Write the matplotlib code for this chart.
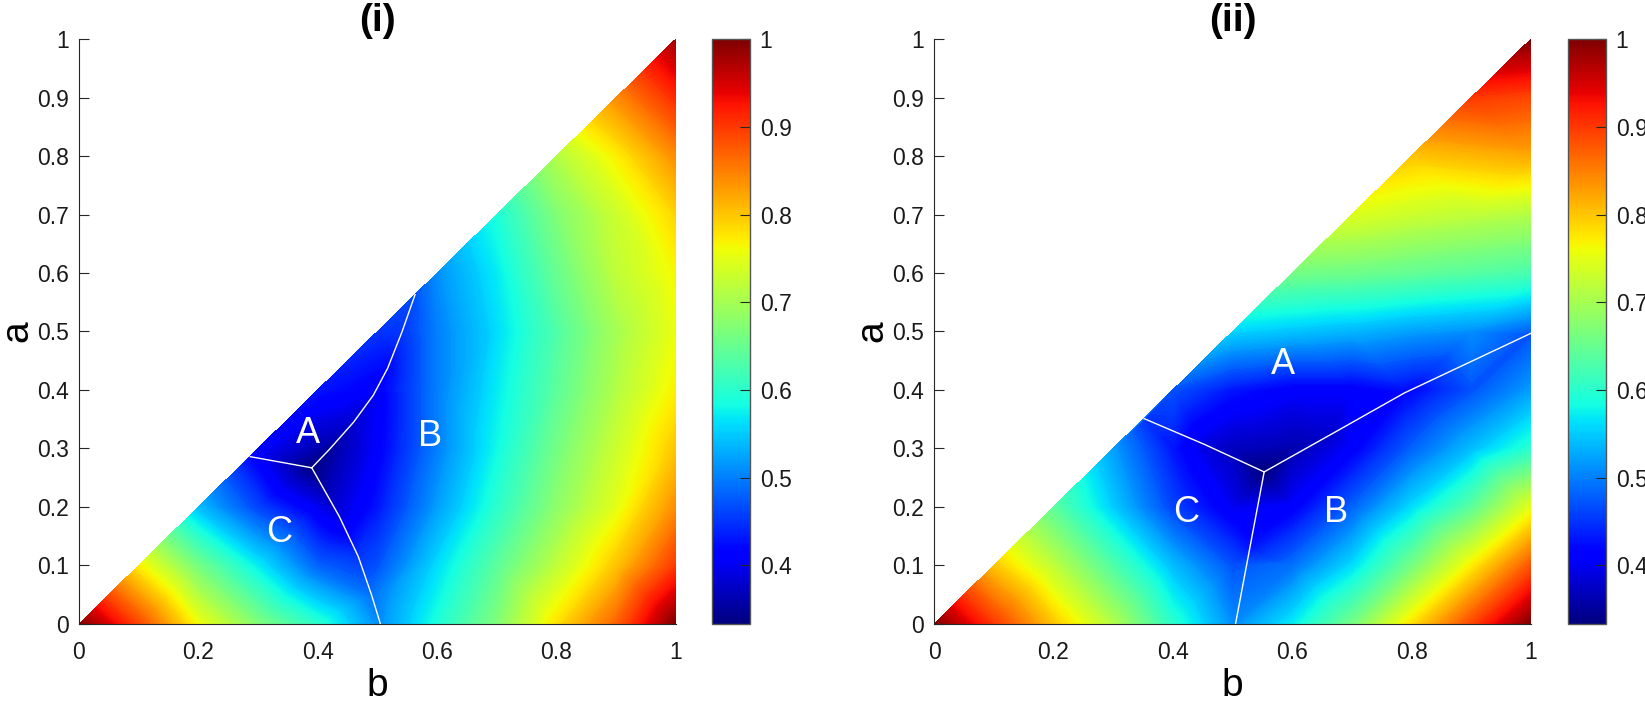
import numpy as np
import matplotlib
matplotlib.use('Agg')
import matplotlib.pyplot as plt
import matplotlib.tri as mtri
from matplotlib import cm, colors
from matplotlib.ticker import FixedLocator, FuncFormatter

plt.rcParams['font.family'] = ['Liberation Sans', 'DejaVu Sans']

# grid positions (b and a both use these)
steps = [0.0, 0.1, 0.2, 0.3, 0.4, 0.5, 0.6, 0.7, 0.8, 0.9, 1.0]

# panel (i): row j is a = steps[j], values for b = steps[j:]
p1_rows = [
    [1.00, 0.89, 0.76, 0.67, 0.60, 0.51, 0.59, 0.67, 0.78, 0.87, 1.00],
    [0.77, 0.66, 0.57, 0.48, 0.47, 0.56, 0.64, 0.72, 0.80, 0.90],
    [0.54, 0.46, 0.40, 0.43, 0.52, 0.60, 0.68, 0.75, 0.84],
    [0.41, 0.36, 0.41, 0.50, 0.58, 0.66, 0.73, 0.80],
    [0.43, 0.41, 0.50, 0.57, 0.64, 0.71, 0.77],
    [0.45, 0.50, 0.56, 0.63, 0.70, 0.755],
    [0.51, 0.57, 0.65, 0.72, 0.765],
    [0.59, 0.67, 0.73, 0.79],
    [0.71, 0.77, 0.84],
    [0.84, 0.91],
    [0.98],
]
# panel (i) region borders: b, a, value along the line
p1_ac_b = [0.287, 0.39]
p1_ac_a = [0.286, 0.267]
p1_ac_v = [0.42, 0.335]
p1_cb_b = [0.39, 0.436, 0.468, 0.49, 0.505]
p1_cb_a = [0.267, 0.184, 0.115, 0.05, 0.0]
p1_cb_v = [0.335, 0.39, 0.45, 0.49, 0.51]
p1_ab_b = [0.39, 0.42, 0.46, 0.493, 0.517, 0.541, 0.563]
p1_ab_a = [0.267, 0.299, 0.345, 0.391, 0.437, 0.499, 0.563]
p1_ab_v = [0.335, 0.35, 0.38, 0.40, 0.42, 0.45, 0.47]

# panel (ii)
p2_rows = [
    [1.00, 0.90, 0.80, 0.71, 0.60, 0.51, 0.57, 0.66, 0.78, 0.89, 1.00],
    [0.80, 0.72, 0.63, 0.54, 0.47, 0.49, 0.56, 0.66, 0.77, 0.88],
    [0.64, 0.55, 0.46, 0.40, 0.41, 0.48, 0.56, 0.64, 0.75],
    [0.52, 0.43, 0.37, 0.36, 0.41, 0.48, 0.54, 0.60],
    [0.47, 0.43, 0.41, 0.41, 0.42, 0.47, 0.52],
    [0.555, 0.545, 0.535, 0.52, 0.51, 0.48],
    [0.66, 0.655, 0.645, 0.635, 0.625],
    [0.745, 0.73, 0.72, 0.71],
    [0.80, 0.81, 0.82],
    [0.90, 0.89],
    [1.00],
]
p2_ac_b = [0.352, 0.453, 0.553]
p2_ac_a = [0.351, 0.307, 0.26]
p2_ac_v = [0.45, 0.39, 0.333]
p2_cb_b = [0.553, 0.529, 0.505]
p2_cb_a = [0.26, 0.13, 0.0]
p2_cb_v = [0.333, 0.43, 0.51]
p2_ab_b = [0.553, 0.67, 0.788, 1.0]
p2_ab_a = [0.26, 0.327, 0.395, 0.497]
p2_ab_v = [0.333, 0.38, 0.42, 0.47]

p1_labels = [('A', 0.383, 0.326), ('B', 0.588, 0.321), ('C', 0.336, 0.157)]
p2_labels = [('A', 0.584, 0.444), ('B', 0.674, 0.191), ('C', 0.423, 0.191)]

cbar_ticks = [0.4, 0.5, 0.6, 0.7, 0.8, 0.9, 1.0]
x_ticks = [0, 0.2, 0.4, 0.6, 0.8, 1]

vmin, vmax = 1 / 3, 1.0
dark = '#262626'


def short_fmt():
    return FuncFormatter(lambda v, pos: '%g' % round(v, 2))


def collect(rows, lines):
    pts = {}
    for j, row in enumerate(rows):
        for k, v in enumerate(row):
            pts[(round(steps[j + k], 4), round(steps[j], 4))] = v
    for bl, al, vl in lines:
        for b, a, v in zip(bl, al, vl):
            pts[(round(b, 4), round(a, 4))] = v
    keys = list(pts.keys())
    b = np.array([k[0] for k in keys])
    a = np.array([k[1] for k in keys])
    v = np.array([pts[k] for k in keys])
    return b, a, v


def draw_panel(ax, cax, rows, lines, labels, title):
    norm = colors.Normalize(vmin, vmax)
    b, a, v = collect(rows, lines)
    tri = mtri.Triangulation(b, a)
    levels = np.linspace(0.33, 1.0, 241)
    ax.tricontourf(tri, v, levels=levels, cmap='jet', norm=norm,
                   extend='both', antialiased=False, zorder=1)
    for bl, al, vl in lines:
        ax.plot(bl, al, color='white', lw=1.0, zorder=3)
    for txt, tb, ta in labels:
        ax.text(tb, ta, txt, color='white', fontsize=26,
                ha='center', va='center', zorder=4)

    ax.set_xlim(0, 1)
    ax.set_ylim(0, 1)
    ax.set_axisbelow(True)
    for s in ['top', 'right']:
        ax.spines[s].set_visible(False)
    for s in ['left', 'bottom']:
        ax.spines[s].set_color(dark)
        ax.spines[s].set_linewidth(0.8)
    ax.set_xticks(x_ticks)
    ax.set_yticks(steps)
    ax.xaxis.set_major_formatter(short_fmt())
    ax.yaxis.set_major_formatter(short_fmt())
    ax.tick_params(axis='both', direction='in', labelsize=16.5,
                   colors=dark, labelcolor='#1a1a1a', width=0.8)
    ax.tick_params(axis='y', length=7, pad=7)
    ax.tick_params(axis='x', length=0, pad=12)
    ax.set_xlabel('b', fontsize=28, va='center')
    ax.xaxis.set_label_coords(0.5, -0.106)
    ax.set_ylabel('a', fontsize=28, va='center')
    ax.yaxis.set_label_coords(-0.104, 0.5)
    ax.set_title(title, fontsize=28, fontweight='bold', pad=6)

    sm = cm.ScalarMappable(norm=colors.Normalize(vmin, vmax), cmap='jet')
    cb = fig.colorbar(sm, cax=cax)
    cb.outline.set_edgecolor('#555555')
    cb.outline.set_linewidth(1.0)
    cb.set_ticks(cbar_ticks)
    cax.yaxis.set_major_locator(FixedLocator(cbar_ticks))
    cax.yaxis.set_major_formatter(short_fmt())
    cax.tick_params(direction='in', length=7, width=0.8, colors=dark,
                    labelcolor='#1a1a1a', labelsize=16.5, pad=7)


fig = plt.figure(figsize=(16.45, 7.03), dpi=100)
ax1 = fig.add_axes([0.048, 0.1124, 0.3629, 0.8321])
cax1 = fig.add_axes([0.4328, 0.1124, 0.0231, 0.8321])
ax2 = fig.add_axes([0.5678, 0.1124, 0.3629, 0.8321])
cax2 = fig.add_axes([0.9532, 0.1124, 0.0231, 0.8321])

draw_panel(ax1, cax1, p1_rows,
           [(p1_ac_b, p1_ac_a, p1_ac_v), (p1_cb_b, p1_cb_a, p1_cb_v),
            (p1_ab_b, p1_ab_a, p1_ab_v)],
           p1_labels, '(i)')
draw_panel(ax2, cax2, p2_rows,
           [(p2_ac_b, p2_ac_a, p2_ac_v), (p2_cb_b, p2_cb_a, p2_cb_v),
            (p2_ab_b, p2_ab_a, p2_ab_v)],
           p2_labels, '(ii)')

fig.savefig('out.png', dpi=100)
